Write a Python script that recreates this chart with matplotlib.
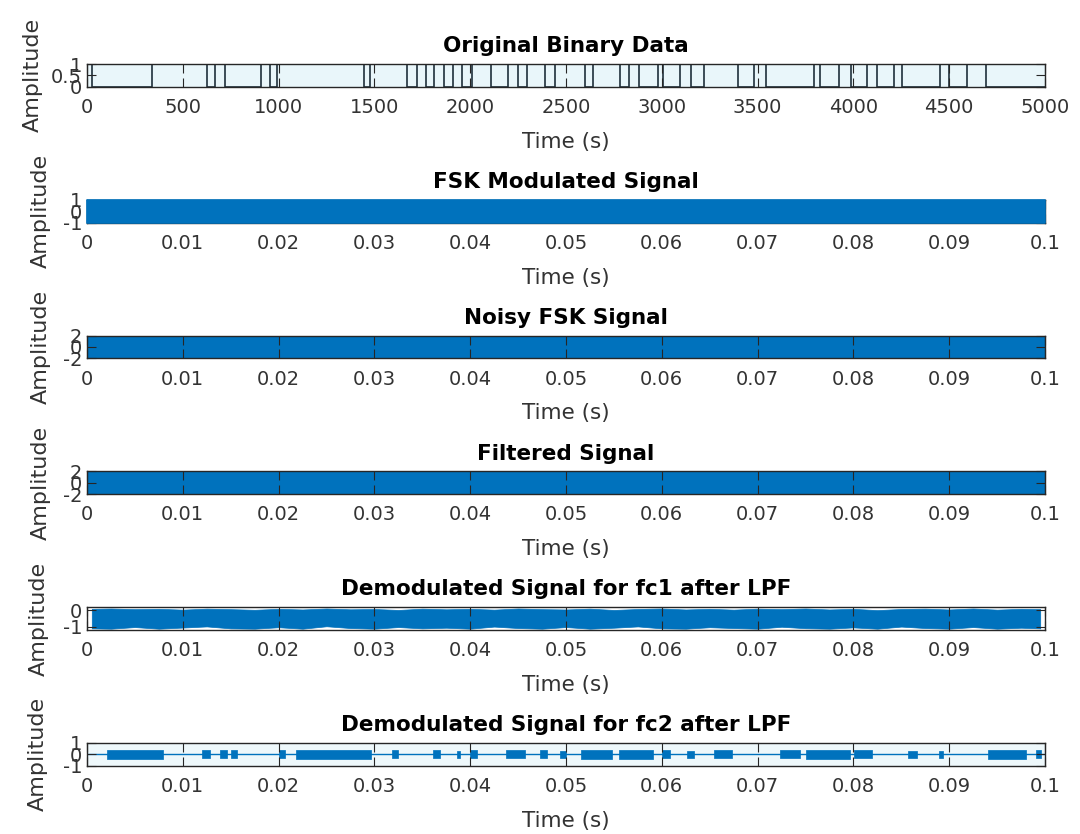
import matplotlib
matplotlib.use("Agg")
import matplotlib.pyplot as plt

# ---------------- data ----------------
# Panel 1: bit transition sample indices (binary data, 5000 samples)
bit_edges = [0, 27, 339, 625, 669, 718, 910, 955, 991, 1446, 1478, 1669, 1723,
             1767, 1812, 1865, 1910, 1955, 2008, 2106, 2196, 2249, 2294, 2391,
             2445, 2597, 2641, 2784, 2828, 2882, 2980, 3007, 3096, 3150, 3221,
             3400, 3480, 3542, 3792, 3828, 3926, 3990, 4069, 4123, 4212, 4256,
             4452, 4497, 4595, 4693, 5000]
bit_start = 1
bin_xticks = [0, 500, 1000, 1500, 2000, 2500, 3000, 3500, 4000, 4500, 5000]
bin_yticks = [0, 0.5, 1]

time_xticks = [0, 0.01, 0.02, 0.03, 0.04, 0.05, 0.06, 0.07, 0.08, 0.09, 0.1]
time_xlabels = ["0", "0.01", "0.02", "0.03", "0.04", "0.05", "0.06", "0.07",
                "0.08", "0.09", "0.1"]

# Panel 2: FSK modulated signal envelope (dense carrier fills -1..1)
fsk_t = [0.0, 0.1]
fsk_hi = [1.0, 1.0]
fsk_lo = [-1.0, -1.0]

# Panel 3: noisy FSK envelope
noisy_t = [0.0, 0.1]
noisy_hi = [2.0, 2.0]
noisy_lo = [-2.0, -2.0]

# Panel 4: filtered signal envelope
filt_t = [0.0, 0.1]
filt_hi = [1.9, 1.9]
filt_lo = [-1.9, -1.9]

# Panel 5: demodulated fc1 after LPF, envelope samples
fc1_t = [0.0005, 0.0025, 0.005, 0.0075, 0.01, 0.0125, 0.015, 0.0175, 0.02,
         0.0225, 0.025, 0.0275, 0.03, 0.0325, 0.035, 0.0375, 0.04, 0.0425,
         0.045, 0.0475, 0.05, 0.0525, 0.055, 0.0575, 0.06, 0.0625, 0.065,
         0.0675, 0.07, 0.0725, 0.075, 0.0775, 0.08, 0.0825, 0.085, 0.0875,
         0.09, 0.0925, 0.095, 0.0975, 0.0995]
fc1_hi = [0.10, 0.12, 0.08, 0.10, 0.05, 0.11, 0.08, 0.04, 0.10, 0.06, 0.12,
          0.07, 0.09, 0.03, 0.11, 0.07, 0.10, 0.05, 0.12, 0.08, 0.06, 0.11,
          0.03, 0.09, 0.12, 0.06, 0.10, 0.05, 0.11, 0.08, 0.12, 0.06, 0.10,
          0.02, 0.09, 0.11, 0.06, 0.12, 0.05, 0.10, 0.08]
fc1_lo = [-1.10, -1.12, -1.02, -1.12, -1.05, -0.98, -1.10, -1.12, -1.03,
          -1.12, -0.97, -1.08, -1.12, -1.02, -1.10, -1.06, -1.12, -0.99,
          -1.08, -1.12, -1.02, -1.12, -1.06, -0.98, -1.10, -1.12, -1.03,
          -1.08, -1.12, -1.00, -1.09, -1.12, -1.04, -1.12, -0.99, -1.08,
          -1.12, -1.02, -1.12, -1.06, -1.10]

# Panel 6: demodulated fc2 after LPF: burst intervals (s) and amplitudes
fc2_burst_start = [0.0021, 0.0120, 0.0139, 0.0150, 0.0200, 0.0218, 0.0318,
                   0.0361, 0.0386, 0.0400, 0.0437, 0.0473, 0.0494, 0.0516,
                   0.0555, 0.0600, 0.0626, 0.0655, 0.0723, 0.0751, 0.0801,
                   0.0857, 0.0889, 0.0940, 0.0991]
fc2_burst_end = [0.0079, 0.0128, 0.0146, 0.0157, 0.0207, 0.0296, 0.0325,
                 0.0368, 0.0389, 0.0407, 0.0457, 0.0480, 0.0500, 0.0548,
                 0.0591, 0.0609, 0.0634, 0.0673, 0.0744, 0.0796, 0.0819,
                 0.0866, 0.0894, 0.0980, 0.0996]
fc2_burst_amp = [0.40, 0.35, 0.35, 0.35, 0.35, 0.40, 0.35, 0.35, 0.30, 0.35,
                 0.35, 0.35, 0.30, 0.40, 0.40, 0.35, 0.30, 0.35, 0.35, 0.40,
                 0.35, 0.30, 0.30, 0.40, 0.35]
fc2_base_t = [0.0, 0.1]
fc2_base_v = [0.0, 0.0]

titles = ["Original Binary Data", "FSK Modulated Signal", "Noisy FSK Signal",
          "Filtered Signal", "Demodulated Signal for fc1 after LPF",
          "Demodulated Signal for fc2 after LPF"]

# ---------------- styling ----------------
plt.rcParams["font.family"] = ["DejaVu Sans"]
BLUE = "#0072BD"
AXC = "#262626"
TXC = "#333333"
W, H = 1080, 834
fig = plt.figure(figsize=(W / 100, H / 100), dpi=100)
fig.patch.set_facecolor("white")

LEFT, RIGHT = 87, 1045
TOP0, STEP, HGT = 64, 135.8, 22.8
ylabel_right = [43, 51, 51, 51, 49, 48]

axes = []
for i in range(6):
    top = TOP0 + STEP * i
    ax = fig.add_axes([LEFT / W, 1 - (top + HGT) / H, (RIGHT - LEFT) / W, HGT / H])
    axes.append(ax)

def style(ax, i, xticks, xlabels, yticks, ylim, xlim):
    ax.set_xlim(*xlim)
    ax.set_ylim(*ylim)
    ax.set_xticks(xticks)
    ax.set_xticklabels(xlabels)
    ax.set_yticks(yticks)
    ax.set_yticklabels([("%g" % v) for v in yticks])
    ax.tick_params(direction="in", top=True, right=True, length=6.5, width=0.8,
                   color=AXC, labelcolor=TXC, labelsize=14)
    ax.tick_params(axis="x", pad=8.0)
    ax.tick_params(axis="y", pad=3.5)
    for s in ax.spines.values():
        s.set_color(AXC)
        s.set_linewidth(1.0)
    ax.set_title(titles[i], fontsize=15.5, fontweight="bold", pad=8.5, color="black")
    ax.set_xlabel("Time (s)", fontsize=15.5, color=TXC)
    ax.set_ylabel("Amplitude", fontsize=16, color=TXC)
    ax.xaxis.label.set_verticalalignment("center")
    ax.xaxis.set_label_coords(0.5, -(55.0 / HGT))
    ax.yaxis.set_label_coords((ylabel_right[i] - LEFT) / (RIGHT - LEFT), 0.5)

# Panel 1
ax = axes[0]
ax.set_facecolor("#e9f6fa")
vals = [(bit_start + k) % 2 for k in range(len(bit_edges) - 1)]
ax.stairs(vals, bit_edges, color="#1f2f3a", linewidth=1.2, baseline=None)
style(ax, 0, bin_xticks, [str(v) for v in bin_xticks], bin_yticks, (0, 1), (0, 5000))

# Panel 2
ax = axes[1]
ax.fill_between(fsk_t, fsk_lo, fsk_hi, color=BLUE, linewidth=1.2, edgecolor=BLUE,
                zorder=3, clip_on=False)
style(ax, 1, time_xticks, time_xlabels, [-1, 0, 1], (-1, 1), (0, 0.1))

# Panel 3
ax = axes[2]
ax.fill_between(noisy_t, noisy_lo, noisy_hi, color=BLUE, linewidth=0, zorder=1)
style(ax, 2, time_xticks, time_xlabels, [-2, 0, 2], (-2, 2), (0, 0.1))
ax.set_axisbelow(False)

# Panel 4
ax = axes[3]
ax.fill_between(filt_t, filt_lo, filt_hi, color=BLUE, linewidth=0, zorder=1)
style(ax, 3, time_xticks, time_xlabels, [-2, 0, 2], (-2, 2), (0, 0.1))
ax.set_axisbelow(False)

# Panel 5
ax = axes[4]
ax.fill_between(fc1_t, fc1_lo, fc1_hi, color=BLUE, linewidth=0.5, edgecolor=BLUE, zorder=1)
style(ax, 4, time_xticks, time_xlabels, [-1, 0], (-1.2, 0.2), (0, 0.1))
ax.set_axisbelow(False)

# Panel 6
ax = axes[5]
ax.set_facecolor("#eef8fb")
ax.plot(fc2_base_t, fc2_base_v, color=BLUE, linewidth=1.0, zorder=1)
for s, e, a in zip(fc2_burst_start, fc2_burst_end, fc2_burst_amp):
    ax.fill_between([s, e], [-a, -a], [a, a], color=BLUE, linewidth=0.5,
                    edgecolor=BLUE, zorder=1)
style(ax, 5, time_xticks, time_xlabels, [-1, 0, 1], (-1, 1), (0, 0.1))
ax.set_axisbelow(False)

fig.savefig("out.png", dpi=100)
